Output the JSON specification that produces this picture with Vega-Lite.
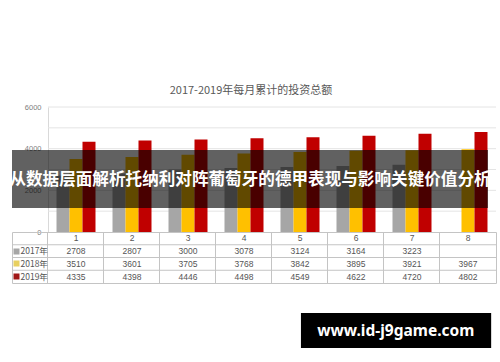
{
  "$schema": "https://vega.github.io/schema/vega-lite/v6.json",
  "background": "white",
  "padding": {"left": 8, "top": 85, "right": 0, "bottom": 0},
  "bounds": "flush",
  "spacing": 0,
  "config": {
    "view": {"stroke": null},
    "font": "Noto Sans CJK SC",
    "concat": {"spacing": 0}
  },
  "datasets": {
    "invest": [
      {"month": "1", "year": "2017年", "value": 2708},
      {"month": "2", "year": "2017年", "value": 2807},
      {"month": "3", "year": "2017年", "value": 3000},
      {"month": "4", "year": "2017年", "value": 3078},
      {"month": "5", "year": "2017年", "value": 3124},
      {"month": "6", "year": "2017年", "value": 3164},
      {"month": "7", "year": "2017年", "value": 3223},
      {"month": "1", "year": "2018年", "value": 3510},
      {"month": "2", "year": "2018年", "value": 3601},
      {"month": "3", "year": "2018年", "value": 3705},
      {"month": "4", "year": "2018年", "value": 3768},
      {"month": "5", "year": "2018年", "value": 3842},
      {"month": "6", "year": "2018年", "value": 3895},
      {"month": "7", "year": "2018年", "value": 3921},
      {"month": "8", "year": "2018年", "value": 3967},
      {"month": "1", "year": "2019年", "value": 4335},
      {"month": "2", "year": "2019年", "value": 4398},
      {"month": "3", "year": "2019年", "value": 4446},
      {"month": "4", "year": "2019年", "value": 4498},
      {"month": "5", "year": "2019年", "value": 4549},
      {"month": "6", "year": "2019年", "value": 4622},
      {"month": "7", "year": "2019年", "value": 4720},
      {"month": "8", "year": "2019年", "value": 4802}
    ],
    "grid": [{"v": 1000}, {"v": 2000}, {"v": 3000}, {"v": 4000}, {"v": 5000}, {"v": 6000}],
    "months": [{"month": "1"}, {"month": "2"}, {"month": "3"}, {"month": "4"}, {"month": "5"}, {"month": "6"}, {"month": "7"}, {"month": "8"}],
    "rows": [{"row": "2017年"}, {"row": "2018年"}, {"row": "2019年"}],
    "banner": [{"label": "从数据层面解析托纳利对阵葡萄牙的德甲表现与影响关键价值分析"}],
    "mark": [{"label": "www.id-j9game.com"}]
  },
  "vconcat": [
    {
      "width": 484,
      "height": 125,
      "title": {"text": "2017-2019年每月累计的投资总额", "fontSize": 11, "fontWeight": "normal", "color": "#595959", "anchor": "middle", "offset": 7, "dx": -3},
      "layer": [
        {
          "data": {"name": "grid"},
          "mark": {"type": "rule", "color": "#e4e4e4", "strokeWidth": 1},
          "encoding": {
            "y": {"field": "v", "type": "quantitative", "scale": {"domain": [0, 6000], "nice": false},
              "axis": {"values": [0, 1000, 2000, 3000, 4000, 5000, 6000], "format": "d", "offset": -36, "grid": false, "ticks": false, "domainColor": "#d9d9d9", "labelPadding": 7, "labelColor": "#808080", "labelFontSize": 7.5, "title": null, "labelFont": "Liberation Sans"}},
            "x": {"datum": "1", "bandPosition": 0, "scale": {"type": "band", "domain": ["1", "2", "3", "4", "5", "6", "7", "8"], "paddingInner": 0, "paddingOuter": 0.3214, "align": 1}, "axis": null},
            "x2": {"value": "width"}
          }
        },
        {
          "data": {"name": "invest"},
          "mark": {"type": "bar"},
          "encoding": {
            "x": {"field": "month", "type": "nominal"},
            "xOffset": {"field": "year", "type": "nominal", "scale": {"paddingInner": 0, "paddingOuter": 0.654}},
            "y": {"field": "value", "type": "quantitative"},
            "color": {"field": "year", "type": "nominal", "scale": {"domain": ["2017年", "2018年", "2019年"], "range": ["#a6a6a6", "#ffc000", "#c00000"]}, "legend": null}
          }
        },
        {
          "data": {"name": "banner"},
          "mark": {"type": "rect", "color": "#000000", "opacity": 0.62, "xOffset": -8, "x2Offset": 2},
          "encoding": {
            "y": {"datum": 3936, "type": "quantitative"},
            "y2": {"datum": 1152}
          }
        },
        {
          "data": {"name": "banner"},
          "mark": {"type": "text", "color": "white", "fontSize": 16.6, "fontWeight": "bold", "baseline": "middle", "align": "center", "dx": -4, "font": "Noto Sans CJK SC"},
          "encoding": {
            "y": {"datum": 2500, "type": "quantitative"},
            "text": {"field": "label"}
          }
        }
      ]
    },
    {
      "width": 484,
      "height": 51,
      "view": {"stroke": "#c4c4c4"},
      "layer": [
        {
          "data": {"name": "rows"},
          "mark": {"type": "rule", "color": "#c4c4c4"},
          "encoding": {
            "y": {"field": "row", "type": "nominal", "bandPosition": 0,
              "scale": {"type": "band", "domain": ["h", "2017年", "2018年", "2019年"], "paddingInner": 0, "paddingOuter": 0},
              "axis": {"title": null, "domain": false, "grid": false, "tickSize": -7, "tickWidth": 6, "tickDash": [0, 1, 6, 100],
                "tickColor": {"condition": [{"test": "datum.value === '2017年'", "value": "#a6a6a6"}, {"test": "datum.value === '2018年'", "value": "#e8d060"}, {"test": "datum.value === '2019年'", "value": "#a01818"}], "value": "transparent"},
                "labelExpr": "datum.value === 'h' ? '' : datum.value", "labelAlign": "left", "labelPadding": -1, "labelFontSize": 8.5, "labelColor": "#555555"}}
          }
        },
        {
          "data": {"name": "invest"},
          "mark": {"type": "text", "fontSize": 8.5, "color": "#555555", "font": "Liberation Sans"},
          "encoding": {
            "x": {"field": "month", "type": "nominal",
              "scale": {"type": "band", "domain": ["1", "2", "3", "4", "5", "6", "7", "8"], "paddingInner": 0, "paddingOuter": 0.3214, "align": 1},
              "axis": {"title": null, "labels": false, "ticks": false, "domain": false, "grid": true, "bandPosition": 0, "gridColor": "#c4c4c4"}},
            "y": {"field": "year", "type": "nominal"},
            "text": {"field": "value"}
          }
        },
        {
          "data": {"name": "months"},
          "mark": {"type": "text", "fontSize": 8.5, "color": "#555555", "font": "Liberation Sans"},
          "encoding": {
            "x": {"field": "month", "type": "nominal"},
            "y": {"datum": "h"},
            "text": {"field": "month"}
          }
        }
      ]
    },
    {
      "width": 484,
      "height": 77,
      "layer": [
        {
          "data": {"name": "mark"},
          "mark": {"type": "rect", "color": "#000000"},
          "encoding": {
            "x": {"datum": 59.7, "type": "quantitative", "scale": {"domain": [0, 100]}, "axis": null},
            "x2": {"datum": 99.0},
            "y": {"datum": 61.0, "type": "quantitative", "scale": {"domain": [0, 100]}, "axis": null},
            "y2": {"datum": 15.6}
          }
        },
        {
          "data": {"name": "mark"},
          "mark": {"type": "text", "color": "white", "fontSize": 15.5, "fontWeight": "bold", "font": "Noto Sans", "baseline": "middle", "align": "center"},
          "encoding": {
            "x": {"datum": 79.3, "type": "quantitative"},
            "y": {"datum": 38.3, "type": "quantitative"},
            "text": {"field": "label"}
          }
        }
      ]
    }
  ]
}
